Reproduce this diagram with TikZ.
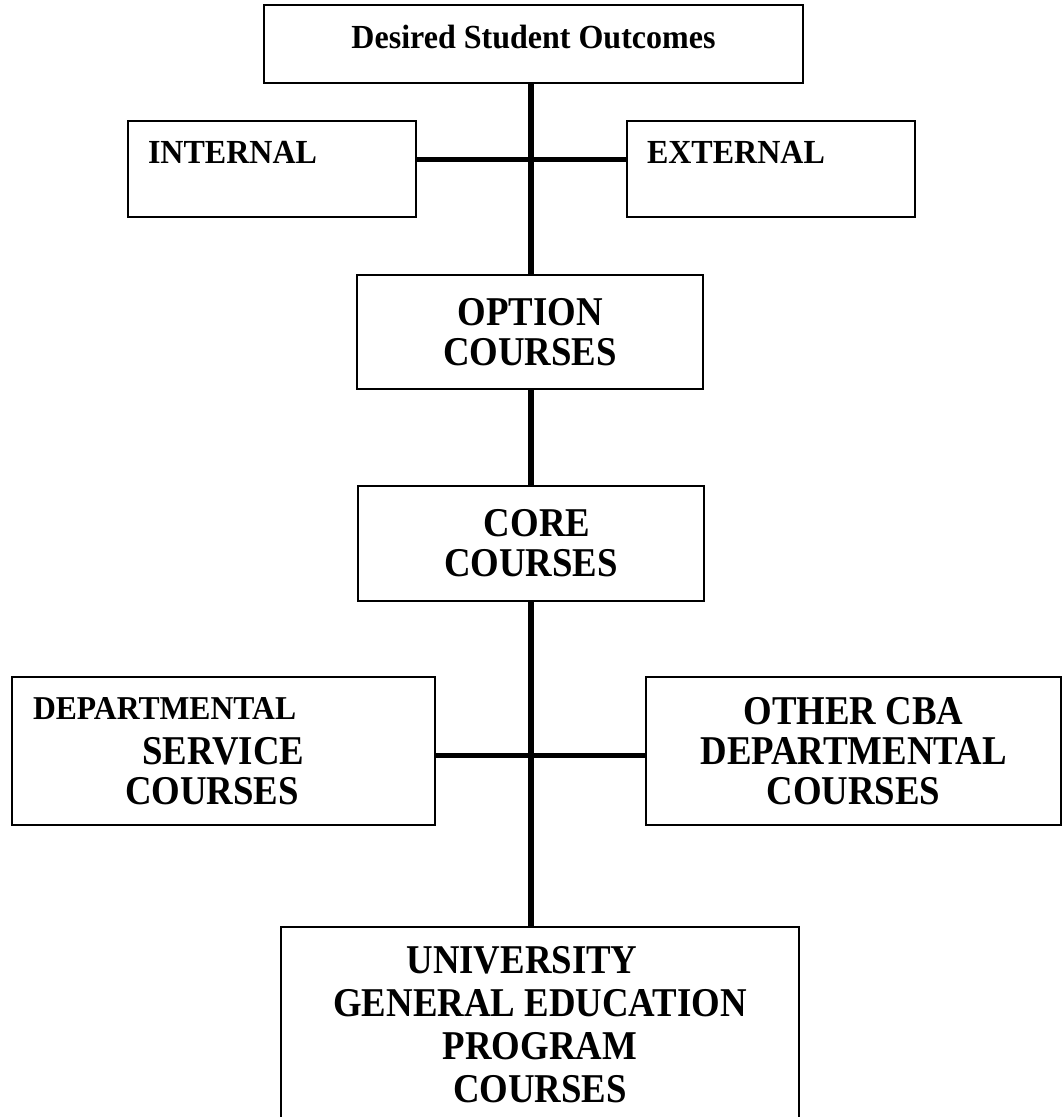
\documentclass[tikz,border=0pt]{standalone}
\usepackage{fontspec}
\setmainfont{Liberation Serif}
\newfontfamily\coursefont{Liberation Serif}[FakeStretch=0.9]
\newfontfamily\outcomefont{Liberation Serif}[FakeStretch=0.95]

\begin{document}
\begin{tikzpicture}[x=1pt,y=-1pt]
  \tikzset{course/.style = {shape=rectangle,draw,line width=2pt,inner sep=0pt,align=center,font=\coursefont\bfseries\fontsize{40.9pt}{40pt}\selectfont}}
  \tikzset{outcome/.style = {course,font=\outcomefont\bfseries\fontsize{33.7pt}{38pt}\selectfont}}
  \tikzset{side/.style = {outcome,align=left,text width=248pt,inner xsep=20pt,text height=42pt,text depth=54pt}}
  \tikzset{trunk/.style = {line width=5.7pt}}
  \tikzset{branch/.style = {line width=5pt}}

  \useasboundingbox (0,0) rectangle (1062,1117);

	\node[outcome,minimum width=539pt,text height=43pt,text depth=35pt] (DSO) at (533.5,44) {Desired Student Outcomes};
	\node[side,minimum width=288pt] (INT) at (272,169) {INTERNAL};
	\node[side,minimum width=288pt] (EXT) at (771,169) {EXTERNAL};

	\node[course,minimum width=346pt,minimum height=114pt] (OPT) at (530,332) {OPTION\\COURSES};
	\node[course,minimum width=346pt,minimum height=115pt] (CORE) at (531,543.5) {\hspace*{12pt}CORE\\COURSES};

	\node[course,align=left,text width=381pt,inner xsep=21pt,minimum width=423pt,minimum height=148pt] (DEP) at (223.5,751)
	  {{\outcomefont\fontsize{33.3pt}{40pt}\selectfont DEPARTMENTAL}\\[5pt]\hspace*{109pt}SERVICE\\\hspace*{92pt}COURSES};
	\node[course,minimum width=415pt,minimum height=148pt] (OTH) at (853.5,751) {OTHER CBA\\DEPARTMENTAL\\COURSES};

	\node[course,font=\coursefont\bfseries\fontsize{40.9pt}{43pt}\selectfont,minimum width=518pt,minimum height=196pt] (UNIV) at (540,1025)
	  {UNIVERSITY\hspace*{36pt}\\GENERAL EDUCATION\\PROGRAM\\COURSES};

	\coordinate (j1) at (531,159);
	\coordinate (j2) at (531,755);

    \foreach \from/\to in {DSO.south/OPT.north, OPT.south/CORE.north, CORE.south/UNIV.north}
    \path[trunk] (\from -| j1) edge (\to -| j1);

    \foreach \from/\to/\via in {INT/EXT/j1, DEP/OTH/j2}
    \path[branch] (\from.east |- \via) edge (\to.west |- \via);

\end{tikzpicture}
\end{document}
